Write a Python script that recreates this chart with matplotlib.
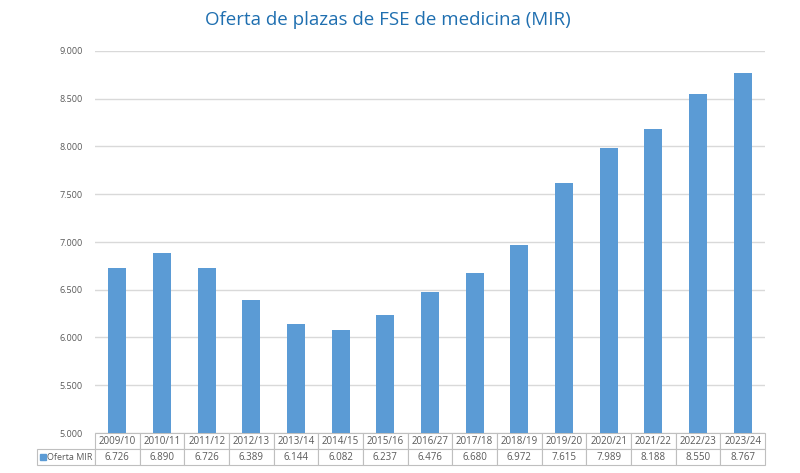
import matplotlib.pyplot as plt
from matplotlib.table import Table
from matplotlib.patches import Rectangle
from matplotlib.ticker import FuncFormatter

years = ["2009/10", "2010/11", "2011/12", "2012/13", "2013/14", "2014/15", "2015/16",
         "2016/27", "2017/18", "2018/19", "2019/20", "2020/21", "2021/22", "2022/23", "2023/24"]
plazas = [6726, 6890, 6726, 6389, 6144, 6082, 6237, 6476, 6680, 6972, 7615, 7989, 8188, 8550, 8767]
series_name = "Oferta MIR"
title = "Oferta de plazas de FSE de medicina (MIR)"

bar_color = "#5B9BD5"
grid_color = "#D9D9D9"
text_color = "#595959"


def miles(v):
    return f"{int(v):,}".replace(",", ".")


plt.rcParams['font.family'] = ['Open Sans', 'DejaVu Sans']

fig = plt.figure(figsize=(8, 4.73), dpi=100)
ax = fig.add_axes([95 / 800, 1 - 433 / 473, 670 / 800, 382 / 473])

x = list(range(len(years)))
ax.bar(x, plazas, width=0.4, color=bar_color, zorder=3)
ax.set_xlim(-0.5, len(years) - 0.5)
ax.set_ylim(5000, 9000)
ax.set_yticks(range(5000, 9001, 500))
ax.yaxis.set_major_formatter(FuncFormatter(lambda v, p: miles(v)))
ax.tick_params(axis='y', length=0, labelsize=6.5, labelcolor=text_color, pad=9)
ax.set_xticks([])
ax.grid(axis='y', color=grid_color, linewidth=1, zorder=0)
for s in ax.spines.values():
    s.set_visible(False)

fig.text(388 / 800, 1 - 20 / 473, title, ha='center', va='center',
         fontsize=13.5, color="#1F6FB0")

# data table under the bars (bbox covers the year columns, label cell sits left of it)
row_h = 16 / 382
lab_w = 58 / 670
tb = Table(ax, bbox=[0, -2 * row_h, 1, 2 * row_h])
w = 1 / len(years)
for i, (yr, v) in enumerate(zip(years, plazas)):
    tb.add_cell(0, i, width=w, height=0.5, text=yr, loc='center', edgecolor="#BFBFBF")
    tb.add_cell(1, i, width=w, height=0.5, text=miles(v), loc='center', edgecolor="#BFBFBF")
tb.add_cell(1, -1, width=lab_w, height=0.5, text="", edgecolor="#BFBFBF")
tb.auto_set_font_size(False)
tb.set_fontsize(7)
for cell in tb.get_celld().values():
    cell.get_text().set_color(text_color)
    cell.set_linewidth(0.8)
ax.add_table(tb)

# legend key inside the row label cell
ax.add_patch(Rectangle((-lab_w + 3 / 670, -row_h * 1.5 - 3 / 382), 6 / 670, 6 / 382,
                       transform=ax.transAxes, color=bar_color, clip_on=False))
ax.text(-lab_w + 10 / 670, -row_h * 1.5, series_name, transform=ax.transAxes,
        ha='left', va='center', fontsize=6.5, color=text_color)

fig.savefig("out.png", dpi=100)
